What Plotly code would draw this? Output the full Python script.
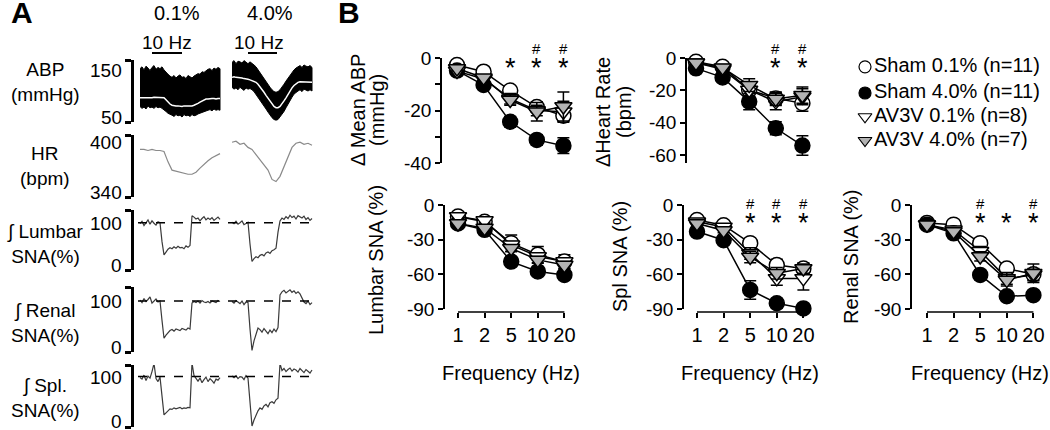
import plotly.graph_objects as go

W, H = 1050, 430
FONT = "Liberation Sans, Arial, sans-serif"


def px(x):
    return x / W


def py(y):
    return 1 - y / H


# ---------------- Panel A: raw traces ----------------
t01 = list(range(1, 42))      # 0.1% recording
t40 = list(range(47, 88))     # 4.0% recording
t01_hr = list(range(1, 42, 2))
t40_hr = list(range(47, 88, 2))

abp01_top = [136, 139, 134, 140, 137, 133, 138, 141, 135, 138, 136, 139,
             134, 130, 127, 124,
             122, 125, 121, 124, 126, 122, 123, 120, 125, 123, 121, 124, 126,
             128, 127, 131, 130, 133, 135,
             136, 133, 137, 135, 138, 136]
abp01_bot = [75, 72, 74, 71, 76, 73, 74, 72, 75, 73, 74, 72,
             70, 67, 64, 62,
             61, 59, 62, 60, 61, 58, 62, 60, 61, 59, 62, 60, 61,
             63, 64, 66, 67, 68, 69,
             70, 68, 71, 69, 70, 69]
abp01_mean = [89, 89, 88, 88, 89, 89, 89, 90, 90, 90, 89, 90,
              89, 86, 82, 79,
              77, 76, 76, 76, 75, 75, 76, 76, 75, 76, 76, 77, 78,
              80, 82, 84, 86, 87, 87,
              88, 88, 88, 87, 88, 88]
abp40_top = [146, 149, 144, 148, 147, 145, 149, 146, 144, 147, 145,
             142, 139, 134, 130, 126, 121, 116, 111, 106, 102, 99, 98,
             99, 102, 106, 111, 116, 121, 126, 130, 134, 137, 139,
             141, 138, 142, 140, 139, 141, 138]
abp40_bot = [106, 103, 105, 102, 106, 104, 101, 105, 103, 104, 102,
             99, 95, 91, 86, 81, 76, 71, 66, 61, 57, 54, 53,
             54, 57, 62, 67, 73, 79, 85, 90, 95, 98, 100,
             102, 99, 103, 101, 100, 102, 100]
abp40_mean = [122, 123, 122, 122, 121, 121, 120, 120, 119, 118, 117,
              116, 114, 111, 107, 103, 98, 93, 88, 83, 78, 75, 73,
              73, 75, 79, 84, 89, 95, 100, 105, 109, 112, 114,
              115, 115, 115, 114, 115, 115, 114]

hr01 = [386, 386, 385, 386, 385, 385, 384, 374, 366, 365, 364,
        363, 362, 362, 364, 368, 372, 375, 378, 380, 382]
hr40 = [393, 394, 391, 392, 388, 386, 381, 376, 372, 366, 357,
        355, 360, 370, 379, 388, 392, 393, 391, 392, 390]

lum01 = [98, 103, 94, 101, 106, 97, 104, 99, 95, 102, 100,
         60, 32,
         38, 44, 47, 45, 49, 46, 50, 47, 48, 45, 51, 48, 52,
         115,
         112, 108, 110, 104, 109, 113, 106, 110, 107, 111, 105, 109, 112, 107]
lum40 = [101, 98, 103, 97, 100, 104, 96, 99, 101,
         55, 18,
         24, 28, 26, 31, 33, 30, 36, 38, 35, 41, 43, 46,
         80, 104,
         110, 107, 113, 109, 116, 111, 114, 108, 115, 112, 110, 114, 107, 111, 105, 109]
ren01 = [102, 97, 105, 99, 103, 108, 96, 101, 104, 98, 100,
         62, 27,
         33, 38, 42, 44, 41, 45, 43, 42, 46, 44, 43, 47, 45,
         96,
         99, 97, 100, 96, 101, 98, 97, 99, 96, 100, 98, 97, 101, 99]
ren40 = [99, 96, 101, 97, 95, 100, 93, 98, 97,
         45, 3,
         22, 35, 47, 44, 39, 46, 41, 36, 43, 38, 45, 40, 48,
         112,
         118, 121, 116, 119, 122, 117, 120, 115, 118, 114,
         104, 98, 95, 100, 93, 97]
spl01 = [98, 95, 103, 92, 101, 97, 110, 126, 96, 90, 99,
         58, 24,
         28, 33, 36, 35, 38, 36, 37, 39, 36, 38, 37, 39, 38,
         127,
         102, 95, 91, 97, 88, 94, 99, 90, 96, 92, 87, 95, 93, 98]
spl40 = [101, 98, 102, 96, 100, 99, 94, 102, 97,
         42, 2,
         14, 25, 32, 38, 35, 42, 45, 40, 48, 50, 47, 54, 57,
         126,
         112, 116, 110, 114, 117, 111, 115, 113, 109, 116, 112, 108, 114, 110, 107, 113]

# ---------------- Panel B: group means and SEM ----------------
freq_labels = ["1", "2", "5", "10", "20"]
groups = ["Sham 0.1% (n=11)", "Sham 4.0% (n=11)", "AV3V 0.1% (n=8)", "AV3V 4.0% (n=7)"]

map_mean = [[-2.7, -5.2, -12.4, -18.7, -22.0],
            [-4.8, -10.3, -24.3, -31.2, -33.4],
            [-5.0, -8.0, -15.5, -20.0, -20.5],
            [-4.0, -7.5, -16.0, -20.5, -18.5]]
map_sem = [[1, 1, 1.5, 2, 2], [1, 1.5, 2, 2, 3], [1, 1.5, 2, 2, 4], [1, 1, 2, 3.5, 5.5]]

hr_mean = [[-2.3, -5.4, -19.8, -25.0, -28.0],
           [-6.4, -12.0, -27.0, -43.5, -54.2],
           [-3.0, -7.0, -19.8, -27.0, -24.0],
           [-3.0, -6.0, -16.8, -25.4, -23.0]]
hr_sem = [[1, 1.5, 4, 4, 5], [1, 1.5, 5, 4, 6], [1, 1.5, 4, 5, 5], [1, 2, 4, 4, 5]]

lum_mean = [[-10, -14.5, -33, -43, -49],
            [-16, -21.5, -49, -57.5, -60.5],
            [-10, -13.5, -34.5, -44.5, -49],
            [-16, -20, -37.5, -47.5, -52]]
lum_sem = [[2, 2, 7, 7, 6], [2, 2, 3, 3, 3], [2, 2, 3, 3, 3], [2, 3, 3, 3, 3]]

spl_mean = [[-13, -17.5, -33, -52, -55],
            [-23, -30.5, -73.5, -85, -89.5],
            [-14.5, -19, -42, -63.5, -63.5],
            [-16, -22, -45, -59, -55]]
spl_sem = [[2, 2, 3, 5, 5], [2, 2, 8, 4, 3], [2, 2, 5, 6, 10], [2, 2, 5, 5, 4]]

ren_mean = [[-15.5, -17, -33, -55, -60],
            [-17, -24.5, -60.5, -79, -78],
            [-17, -21.5, -40, -63.5, -60.5],
            [-17, -23, -44.5, -65, -59]]
ren_sem = [[2, 2, 3, 4, 5], [2, 2, 4, 3, 2], [2, 2, 4, 5, 5], [2, 2, 4, 5, 8]]

fig = go.Figure()
layout = dict(width=W, height=H, margin=dict(l=0, r=0, t=0, b=0, pad=0),
              paper_bgcolor="white", plot_bgcolor="white", showlegend=False,
              font=dict(family=FONT, size=19, color="black"))
annotations = []
shapes = []


def ann(text, x, y, size=19, **kw):
    d = dict(text=text, x=px(x), y=py(y), xref="paper", yref="paper",
             xanchor="center", yanchor="middle",
             showarrow=False, font=dict(size=size, family=FONT, color="black"))
    d.update(kw)
    annotations.append(d)


# ---- panel A axes ----
layout["xaxis"] = dict(domain=[px(138), px(314)], range=[0, 88], visible=False, anchor="y")
rowsA = [  # (axis, top px, bottom px, range, labels)
    ("y", 60, 122, [50, 150], [("150", 70), ("50", 117)], "ABP<br>(mmHg)", 82),
    ("y2", 135, 197, [340, 400], [("400", 142), ("340", 192)], "HR<br>(bpm)", 166),
    ("y3", 210, 270, [0, 127], [("100", 223), ("0", 265)], "∫ Lumbar<br>SNA(%)", 244),
    ("y4", 287, 352, [0, 127.5], [("100", 301), ("0", 347)], "∫ Renal<br>SNA(%)", 323),
    ("y5", 365, 427, [0, 123], [("100", 377), ("0", 421)], "∫ Spl.<br>SNA(%)", 398),
]
for ax, top, bot, rng, labs, title, ty in rowsA:
    key = "yaxis" if ax == "y" else "yaxis" + ax[1:]
    layout[key] = dict(domain=[py(bot), py(top)], range=rng, anchor="free",
                       position=px(132), showline=True, linewidth=2.5, linecolor="black",
                       ticks="outside", ticklen=6, tickwidth=2.5, tickcolor="black",
                       tickvals=rng, showticklabels=False, showgrid=False, zeroline=False)
    for txt, yy in labs:
        ann(txt, 124, yy, size=19, xanchor="right")
    ann(title, 45, ty, size=19)
    if ax in ("y3", "y4", "y5"):
        shapes.append(dict(type="line", xref="x", yref=ax, x0=0, x1=87, y0=100, y1=100,
                           line=dict(color="black", width=1.5, dash="dash")))

# ABP bands with white mean line
for t, top, bot, mean in [(t01, abp01_top, abp01_bot, abp01_mean),
                          (t40, abp40_top, abp40_bot, abp40_mean)]:
    fig.add_trace(go.Scatter(x=t + t[::-1], y=top + bot[::-1], fill="toself",
                             fillcolor="black", mode="lines",
                             line=dict(color="black", width=1), xaxis="x", yaxis="y"))
    fig.add_trace(go.Scatter(x=t, y=mean, mode="lines", line=dict(color="white", width=1.5),
                             xaxis="x", yaxis="y"))
for t, v in [(t01_hr, hr01), (t40_hr, hr40)]:
    fig.add_trace(go.Scatter(x=t, y=v, mode="lines", line=dict(color="#8a8a8a", width=1.2),
                             xaxis="x", yaxis="y2"))
for ax, a, b in [("y3", lum01, lum40), ("y4", ren01, ren40), ("y5", spl01, spl40)]:
    for t, v in [(t01, a), (t40, b)]:
        fig.add_trace(go.Scatter(x=t, y=v, mode="lines", line=dict(color="#3a3a3a", width=1.2),
                                 xaxis="x", yaxis=ax))

ann("<b>A</b>", 22, 13, size=30)
ann("<b>B</b>", 349, 13, size=30)
ann("0.1%", 177, 13, size=20)
ann("4.0%", 270, 13, size=20)
ann("10 Hz", 167, 42, size=19)
ann("10 Hz", 259, 42, size=19)
for x0, x1 in [(152, 182), (248, 277)]:
    shapes.append(dict(type="line", xref="paper", yref="paper", x0=px(x0), x1=px(x1),
                       y0=py(53), y1=py(53), line=dict(color="black", width=2)))

# ---- panel B ----
STEP = 26.6
styles = [("circle", "white"), ("circle", "black"), ("triangle-down", "white"),
          ("triangle-down", "#b3b3b3")]
panelsB = [  # n, axis px, first point px, top, bottom, y range, tickvals, ticktext, data
    (6, 442, 457, 58, 163, [-40, 0], [0, -10, -20, -30, -40], ["0", "", "-20", "", "-40"],
     map_mean, map_sem, False),
    (7, 687, 696, 58, 163, [-65, 0], [0, -20, -40, -60], ["0", "-20", "-40", "-60"],
     hr_mean, hr_sem, False),
    (8, 445, 458, 205, 309, [-90, 0], [0, -30, -60, -90], ["0", "-30", "-60", "-90"],
     lum_mean, lum_sem, True),
    (9, 684, 697, 205, 309, [-90, 0], [0, -30, -60, -90], ["0", "-30", "-60", "-90"],
     spl_mean, spl_sem, True),
    (10, 912, 927, 205, 309, [-90, 0], [0, -30, -60, -90], ["0", "-30", "-60", "-90"],
     ren_mean, ren_sem, True),
]
for n, axpx, p1, top, bot, yr, tv, tt, means, sems, showx in panelsB:
    right = min(axpx + 135, W)
    lo = -(p1 - axpx) / STEP
    hi = lo + (right - axpx) / STEP
    xa = dict(domain=[px(axpx), px(right)], range=[lo, hi], anchor="y%d" % n,
              showgrid=False, zeroline=False, automargin=False)
    if showx:
        xa.update(anchor="free", position=py(312), showline=False, ticks="outside",
                  ticklen=5, tickwidth=1.5, tickcolor="black", tickvals=[0, 1, 2, 3, 4],
                  ticktext=freq_labels, tickfont=dict(size=20))
        shapes.append(dict(type="line", xref="x%d" % n, yref="paper", x0=0, x1=4,
                           y0=py(312), y1=py(312), line=dict(color="black", width=1.5)))
        ann("Frequency (Hz)", p1 + 2 * STEP, 373, size=20)
    else:
        xa.update(visible=False)
    layout["xaxis%d" % n] = xa
    layout["yaxis%d" % n] = dict(domain=[py(bot), py(top)], range=yr, anchor="x%d" % n,
                                 showline=True, linewidth=1.5, linecolor="black",
                                 ticks="outside", ticklen=5, tickwidth=1.5, tickcolor="black",
                                 tickvals=tv, ticktext=tt, tickfont=dict(size=19),
                                 showgrid=False, zeroline=False, automargin=False)
    for g in range(4):
        sym, fc = styles[g]
        fig.add_trace(go.Scatter(
            x=[0, 1, 2, 3, 4], y=means[g], mode="lines+markers", cliponaxis=False,
            line=dict(color="black", width=1.5),
            marker=dict(symbol=sym, size=15, color=fc, line=dict(color="black", width=1.5)),
            error_y=dict(type="data", array=sems[g], color="black", thickness=1.5, width=6),
            xaxis="x%d" % n, yaxis="y%d" % n, name=groups[g]))

# y titles of panel B
ann("Δ Mean ABP", 358, 110, size=20, textangle=-90)
ann("(mmHg)", 377, 110, size=20, textangle=-90)
ann("ΔHeart Rate", 603, 112, size=20, textangle=-90)
ann("(bpm)", 624, 112, size=20, textangle=-90)
ann("Lumbar SNA (%)", 376, 260, size=20, textangle=-90)
ann("Spl SNA (%)", 620, 257, size=20, textangle=-90)
ann("Renal SNA (%)", 851, 257, size=20, textangle=-90)

# significance marks: first point px, star y, hash y, star idx, hash idx
sig = [(457, 68, 48, [2, 3, 4], [3, 4]),
       (696, 68, 48, [3, 4], [3, 4]),
       (697, 223, 203, [2, 3, 4], [2, 3, 4]),
       (927, 223, 203, [2, 3, 4], [2, 4])]
for p1, sy, hy, stars, hashes in sig:
    for i in stars:
        ann("*", p1 + i * STEP, sy, size=27)
    for i in hashes:
        ann("#", p1 + i * STEP, hy, size=15)

# legend
layout["xaxis11"] = dict(domain=[px(855), px(875)], range=[0, 1], visible=False, anchor="y11")
layout["yaxis11"] = dict(domain=[py(150), py(55)], range=[4.5, 0.5], visible=False, anchor="x11")
leg_rows = [1.0, 2.1, 3.1, 4.1]
for g in range(4):
    sym, fc = styles[g]
    fig.add_trace(go.Scatter(x=[0.5], y=[leg_rows[g]], mode="markers", xaxis="x11", yaxis="y11",
                             marker=dict(symbol=sym, size=12, color=fc,
                                         line=dict(color="black", width=1.2))))
for g, yy in enumerate([65, 91, 115, 139]):
    ann(groups[g], 872, yy, size=20, xanchor="left")

layout["annotations"] = annotations
layout["shapes"] = shapes
fig.update_layout(**layout)
fig.write_html("out.html", config={"displayModeBar": False},
               post_script="document.body.style.margin='0';")
